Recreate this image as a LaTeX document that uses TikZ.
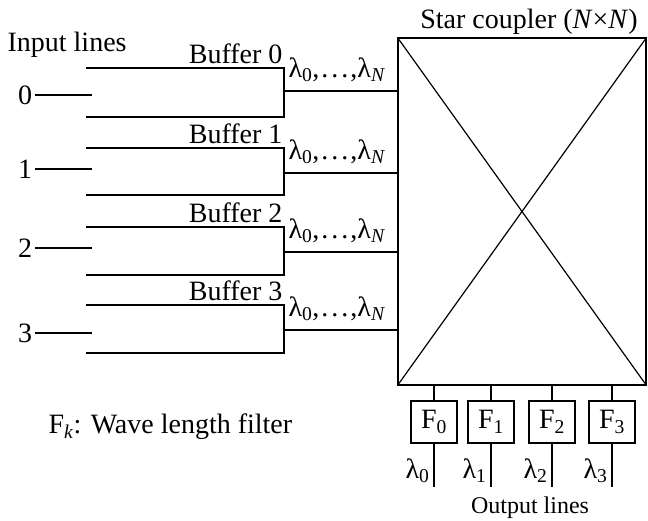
\documentclass[tikz,border=0pt]{standalone}
\usepackage{fontspec}
\setmainfont{Liberation Serif}
\newcommand{\lamsub}[1]{λ\textsubscript{#1}}
\newcommand{\lamrange}{\lamsub{0},\kern2pt.\kern3pt.\kern3pt.\kern2pt,\lamsub{\textit{N}}}
\begin{document}
\begin{tikzpicture}[x=1pt,y=-1pt,
  line width=1.2pt,
  every node/.style={font=\fontsize{28}{32}\selectfont, inner sep=0pt},
  filterbox/.style={draw, minimum width=46pt, minimum height=42pt},
  lbl/.style={anchor=base west},
  buflbl/.style={anchor=base east}]
\useasboundingbox (0,0) rectangle (648,520);
% star coupler
\node[draw, minimum width=248pt, minimum height=347pt] (coupler) at (522,211.5) {};
\draw (coupler.north west) -- (coupler.south east);
\draw (coupler.north east) -- (coupler.south west);
\node[anchor=base] (title) at (529,28) {Star coupler (\textit{N}×\textit{N})};
% input label
\node[anchor=base west] (inlbl) at (7,51) {Input lines};
% buffers
\foreach \k/\t/\b/\o/\i in {0/68/117/91/95, 1/148/195/173/169, 2/227/275/252/248, 3/305/353/330/333}{
  \coordinate (bt\k) at (86,\t);
  \coordinate (btr\k) at (284,\t);
  \coordinate (bbr\k) at (284,\b);
  \coordinate (bb\k) at (86,\b);
  \coordinate (bo\k) at (284,\o);
  \draw (bt\k) -- (btr\k) -- (bbr\k) -- (bb\k);
  \draw (bo\k) -- (bo\k -| coupler.west);
  \node[buflbl] (bl\k) at (283,\t-5) {Buffer \k};
  \node[lbl] (lam\k) at (288,\o-14) {\lamrange};
  \node (in\k) at (25,\i) {\k};
  \coordinate (ie\k) at (92,\i);
  \draw (in\k.east) ++(2,0) -- (ie\k);
}
% filters
\foreach \k/\x in {0/434, 1/491, 2/552, 3/612}{
  \node[filterbox] (F\k) at (\x,422) {F\textsubscript{\k}};
  \draw (F\k.north) -- (F\k.north |- coupler.south);
  \coordinate (out\k) at (\x,487);
  \draw (F\k.south) -- (out\k);
  \node[anchor=base east] (ol\k) at (\x-4,478) {\lamsub{\k}};
}
\node[anchor=base] (outlbl) at (530,513) {\fontsize{24}{28}\selectfont Output lines};
\node[anchor=base west] (legend) at (48,433) {F\textsubscript{\textit{k}}: Wave length filter};
\end{tikzpicture}
\end{document}
